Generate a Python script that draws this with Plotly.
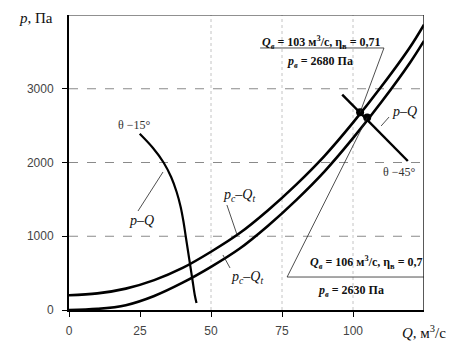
import plotly.graph_objects as go

# ---- data ----
Q_net = [0, 10, 20, 30, 40, 50, 60, 70, 80, 90, 100, 110, 120, 125]
p_net_lower = [0, 15, 65, 190, 370, 585, 830, 1140, 1490, 1880, 2330, 2820, 3350, 3650]
p_net_upper = [200, 225, 290, 405, 570, 790, 1040, 1350, 1700, 2090, 2540, 3030, 3560, 3870]

Q_fan15 = [24.9, 29.5, 33.3, 36.0, 37.9, 39.3, 40.3, 41.1, 41.9, 42.7, 43.5, 44.3, 44.9]
p_fan15 = [2390, 2200, 2000, 1800, 1600, 1400, 1200, 1000, 800, 600, 400, 200, 95]

Q_fan45 = [96.2, 119.3]
p_fan45 = [2920, 2020]

Q_op = [102.5, 105.0]
p_op = [2680, 2610]

x_ticks = [0, 25, 50, 75, 100]
y_ticks = [0, 1000, 2000, 3000]
x_grid = [50, 75, 100]
y_grid = [1000, 2000, 3000]

X_MAX, Y_MAX = 125, 4000

fig = go.Figure()
thick = dict(color="black", width=2.6)
fig.add_trace(go.Scatter(x=Q_net, y=p_net_upper, mode="lines", line=dict(shape="spline", **thick), hoverinfo="skip"))
fig.add_trace(go.Scatter(x=Q_net, y=p_net_lower, mode="lines", line=dict(shape="spline", **thick), hoverinfo="skip"))
fig.add_trace(go.Scatter(x=Q_fan15, y=p_fan15, mode="lines", line=dict(shape="spline", smoothing=1.0, color="black", width=2.2), hoverinfo="skip"))
fig.add_trace(go.Scatter(x=Q_fan45, y=p_fan45, mode="lines", line=dict(color="black", width=2.4), hoverinfo="skip"))
fig.add_trace(go.Scatter(x=Q_op, y=p_op, mode="markers", marker=dict(color="black", size=8), hoverinfo="skip"))

shapes = []
for gx in x_grid:
    shapes.append(dict(type="line", xref="x", yref="y", x0=gx, x1=gx, y0=0, y1=Y_MAX,
                       line=dict(color="#c4c4c4", width=1, dash="dot"), layer="below"))
for gy in y_grid:
    shapes.append(dict(type="line", xref="x", yref="y", x0=0, x1=X_MAX, y0=gy, y1=gy,
                       line=dict(color="#8a8a8a", width=1, dash="dash"), layer="below"))
# frame top/right
shapes.append(dict(type="line", xref="x", yref="y", x0=0, x1=X_MAX, y0=Y_MAX, y1=Y_MAX, line=dict(color="#222", width=1.2)))
shapes.append(dict(type="line", xref="x", yref="y", x0=X_MAX, x1=X_MAX, y0=0, y1=Y_MAX, line=dict(color="#222", width=1.5)))

thin = dict(color="#222", width=0.8)
leaders = [
    (24.3, 1342, 33.1, 1871),     # left p-Q
    (55.6, 1424, 59.2, 1017),     # upper pc-Qt
    (54.2, 746, 56.7, 570),       # lower pc-Qt
    (112.7, 2617, 109.9, 2495),   # right p-Q
    (67.3, 3553, 110.9, 3553),    # upper annotation underline
    (110.9, 3553, Q_op[0], p_op[0]),
    (76.8, 447, X_MAX, 447),      # lower annotation line
    (76.8, 447, Q_op[1], p_op[1]),
]
for x0, y0, x1, y1 in leaders:
    shapes.append(dict(type="line", xref="x", yref="y", x0=x0, y0=y0, x1=x1, y1=y1, line=thin))

serif = "Liberation Serif, Times New Roman, serif"
ann = []
def label(x, y, text, size=14, color="#111"):
    ann.append(dict(x=x, y=y, xref="x", yref="y", text=text, showarrow=False,
                    font=dict(family=serif, size=size, color=color), xanchor="center", yanchor="middle"))

label(23.2, 2508, "θ −15°", 12, "#333")
label(116.5, 1871, "θ −45°", 12, "#333")
label(25.4, 1220, "<i>p–Q</i>", 14)
label(118.0, 2698, "<i>p–Q</i>", 14)
label(59.9, 1546, "<i>p<sub>c</sub>–Q<sub>t</sub></i>", 14)
label(62.7, 447, "<i>p<sub>c</sub>–Q<sub>t</sub></i>", 14)
label(88.7, 3628, "<b><i>Q<sub>в</sub></i> = 103 м<sup>3</sup>/с, η<sub>в</sub> = 0,71</b>", 12)
label(88.4, 3360, "<b><i>p<sub>в</sub></i> = 2680 Па</b>", 12)
label(104.6, 645, "<b><i>Q<sub>в</sub></i> = 106 м<sup>3</sup>/с, η<sub>в</sub> = 0,7</b>", 12)
label(99.3, 255, "<b><i>p<sub>в</sub></i> = 2630 Па</b>", 12)

W, H = 455, 352
L, R, T, B = 69, 31, 15, 42
pw, ph = W - L - R, H - T - B

def px_label(px, py, text, size):
    ann.append(dict(x=(px - L) / pw, y=(H - B - py) / ph, xref="paper", yref="paper",
                    text=text, showarrow=False, xanchor="center", yanchor="middle",
                    font=dict(family=serif, size=size, color="#111")))

px_label(36, 18, "<i>p</i>, Па", 15)
px_label(424, 332, "<i>Q</i>, м<sup>3</sup>/с", 15)

fig.update_layout(
    width=W, height=H, margin=dict(l=L, r=R, t=T, b=B),
    paper_bgcolor="white", plot_bgcolor="white", showlegend=False,
    shapes=shapes, annotations=ann,
    xaxis=dict(range=[0, X_MAX], tickvals=x_ticks, showgrid=False, zeroline=False,
               showline=True, linecolor="black", linewidth=2, ticks="outside", ticklen=5,
               tickcolor="black", tickfont=dict(family="Liberation Sans, Arial", size=12, color="#444"),
               ticklabelstandoff=4),
    yaxis=dict(range=[0, Y_MAX], tickvals=y_ticks, showgrid=False, zeroline=False,
               showline=True, linecolor="black", linewidth=2, ticks="outside", ticklen=5,
               tickcolor="black", tickfont=dict(family="Liberation Sans, Arial", size=12, color="#444"),
               ticklabelstandoff=6),
)
fig.write_html("out.html")
